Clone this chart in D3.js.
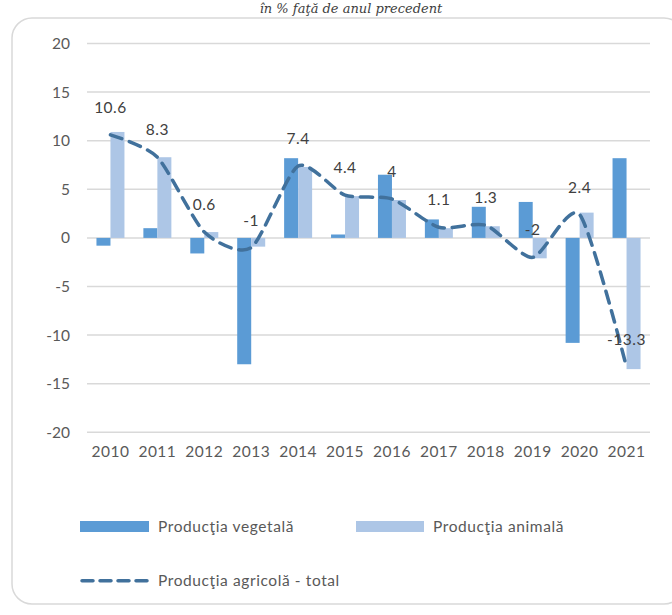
<!DOCTYPE html>
<html>
<head>
<meta charset="utf-8">
<script src="https://cdn.jsdelivr.net/npm/d3@7"></script>
<style>
  body { margin: 0; background: #fff; }
  text { font-family: Lato, "Open Sans", sans-serif; }
</style>
</head>
<body>
<div id="chart"></div>
<script>
// values
const years = ["2010", "2011", "2012", "2013", "2014", "2015", "2016", "2017", "2018", "2019", "2020", "2021"];
const vegetala = [-0.8, 1.0, -1.6, -13.0, 8.2, 0.35, 6.5, 1.9, 3.2, 3.7, -10.8, 8.2];
const animala = [10.9, 8.3, 0.6, -0.9, 7.3, 4.3, 3.9, 1.0, 1.2, -2.1, 2.6, -13.5];
const total = [10.6, 8.3, 0.6, -1, 7.4, 4.4, 4, 1.1, 1.3, -2, 2.4, -13.3];
const yTicks = [-20, -15, -10, -5, 0, 5, 10, 15, 20];
const legendNames = ["Producţia vegetală", "Producţia animală", "Producţia agricolă - total"];

const W = 672, H = 615;
const colVeg = "#5b9bd5", colAnim = "#adc6e6", colLine = "#41719c";
const fs = "15.5px";

const svg = d3.select("#chart").append("svg")
    .attr("width", W)
    .attr("height", H);

// rounded frame
svg.append("rect")
    .attr("x", 12).attr("y", 18)
    .attr("width", 672).attr("height", 586)
    .attr("rx", 20).attr("ry", 20)
    .attr("fill", "none")
    .attr("stroke", "#d9d9d9")
    .attr("stroke-width", 1.5);

// title
svg.append("text")
    .attr("x", 351).attr("y", 13)
    .attr("text-anchor", "middle")
    .style("font-family", "'DejaVu Serif', serif")
    .style("font-style", "italic")
    .style("font-size", "13px")
    .attr("fill", "#404040")
    .text("în % faţă de anul precedent");

const x = d3.scaleBand().domain(years).range([87, 650]);
const y = d3.scaleLinear().domain([-20, 20]).range([432.3, 43.5]);

// gridlines
svg.append("g").selectAll("line")
    .data(yTicks)
    .join("line")
    .attr("x1", 87).attr("x2", 650)
    .attr("y1", d => y(d)).attr("y2", d => y(d))
    .attr("stroke", "#d9d9d9")
    .attr("stroke-width", 1.5);

// y axis labels
const yAxis = d3.axisLeft(y).tickValues(yTicks).tickSize(0).tickPadding(0).tickFormat(d => String(d));
const yG = svg.append("g").attr("transform", "translate(70,0)").call(yAxis);
yG.select(".domain").remove();
yG.selectAll("text")
    .style("font-family", "Lato, sans-serif")
    .style("font-size", fs)
    .attr("fill", "#595959");

// x axis labels
const xAxis = d3.axisBottom(x).tickSize(0).tickPadding(0);
const xG = svg.append("g").attr("transform", "translate(0,446)").call(xAxis);
xG.select(".domain").remove();
xG.selectAll("text")
    .style("font-family", "Lato, sans-serif")
    .style("font-size", fs)
    .style("letter-spacing", "0.5px")
    .attr("fill", "#595959");

const barW = 14;

svg.append("g").selectAll("rect")
    .data(vegetala)
    .join("rect")
    .attr("x", (d, i) => x(years[i]) + x.bandwidth() / 2 - barW)
    .attr("width", barW)
    .attr("y", d => y(Math.max(0, d)))
    .attr("height", d => Math.abs(y(d) - y(0)))
    .attr("fill", colVeg);

svg.append("g").selectAll("rect")
    .data(animala)
    .join("rect")
    .attr("x", (d, i) => x(years[i]) + x.bandwidth() / 2)
    .attr("width", barW)
    .attr("y", d => y(Math.max(0, d)))
    .attr("height", d => Math.abs(y(d) - y(0)))
    .attr("fill", colAnim);

// total line, smoothed like the office chart
const line = d3.line()
    .x((d, i) => x(years[i]) + x.bandwidth() / 2)
    .y(d => y(d))
    .curve(d3.curveCardinal.tension(0.3));

svg.append("path")
    .datum(total)
    .attr("d", line)
    .attr("fill", "none")
    .attr("stroke", colLine)
    .attr("stroke-width", 3.5)
    .attr("stroke-dasharray", "12,8")
    .attr("stroke-linecap", "round");

// data labels above points
svg.append("g").selectAll("text")
    .data(total)
    .join("text")
    .attr("x", (d, i) => x(years[i]) + x.bandwidth() / 2)
    .attr("y", d => y(d) - 22)
    .attr("text-anchor", "middle")
    .style("font-size", fs)
    .style("letter-spacing", "0.5px")
    .attr("fill", "#404040")
    .text(d => d);

// legend
const leg = svg.append("g");
leg.append("rect").attr("x", 80).attr("y", 521).attr("width", 69).attr("height", 11).attr("fill", colVeg);
leg.append("text").attr("x", 158).attr("y", 532).style("font-size", fs).style("letter-spacing", "0.6px").attr("fill", "#595959").text(legendNames[0]);
leg.append("rect").attr("x", 356).attr("y", 521).attr("width", 68).attr("height", 11).attr("fill", colAnim);
leg.append("text").attr("x", 433).attr("y", 532).style("font-size", fs).style("letter-spacing", "0.6px").attr("fill", "#595959").text(legendNames[1]);
leg.append("line")
    .attr("x1", 82).attr("x2", 149)
    .attr("y1", 580.7).attr("y2", 580.7)
    .attr("stroke", colLine)
    .attr("stroke-width", 3.5)
    .attr("stroke-dasharray", "11,7")
    .attr("stroke-linecap", "round");
leg.append("text").attr("x", 158).attr("y", 586).style("font-size", fs).style("letter-spacing", "0.6px").attr("fill", "#595959").text(legendNames[2]);
</script>
</body>
</html>
